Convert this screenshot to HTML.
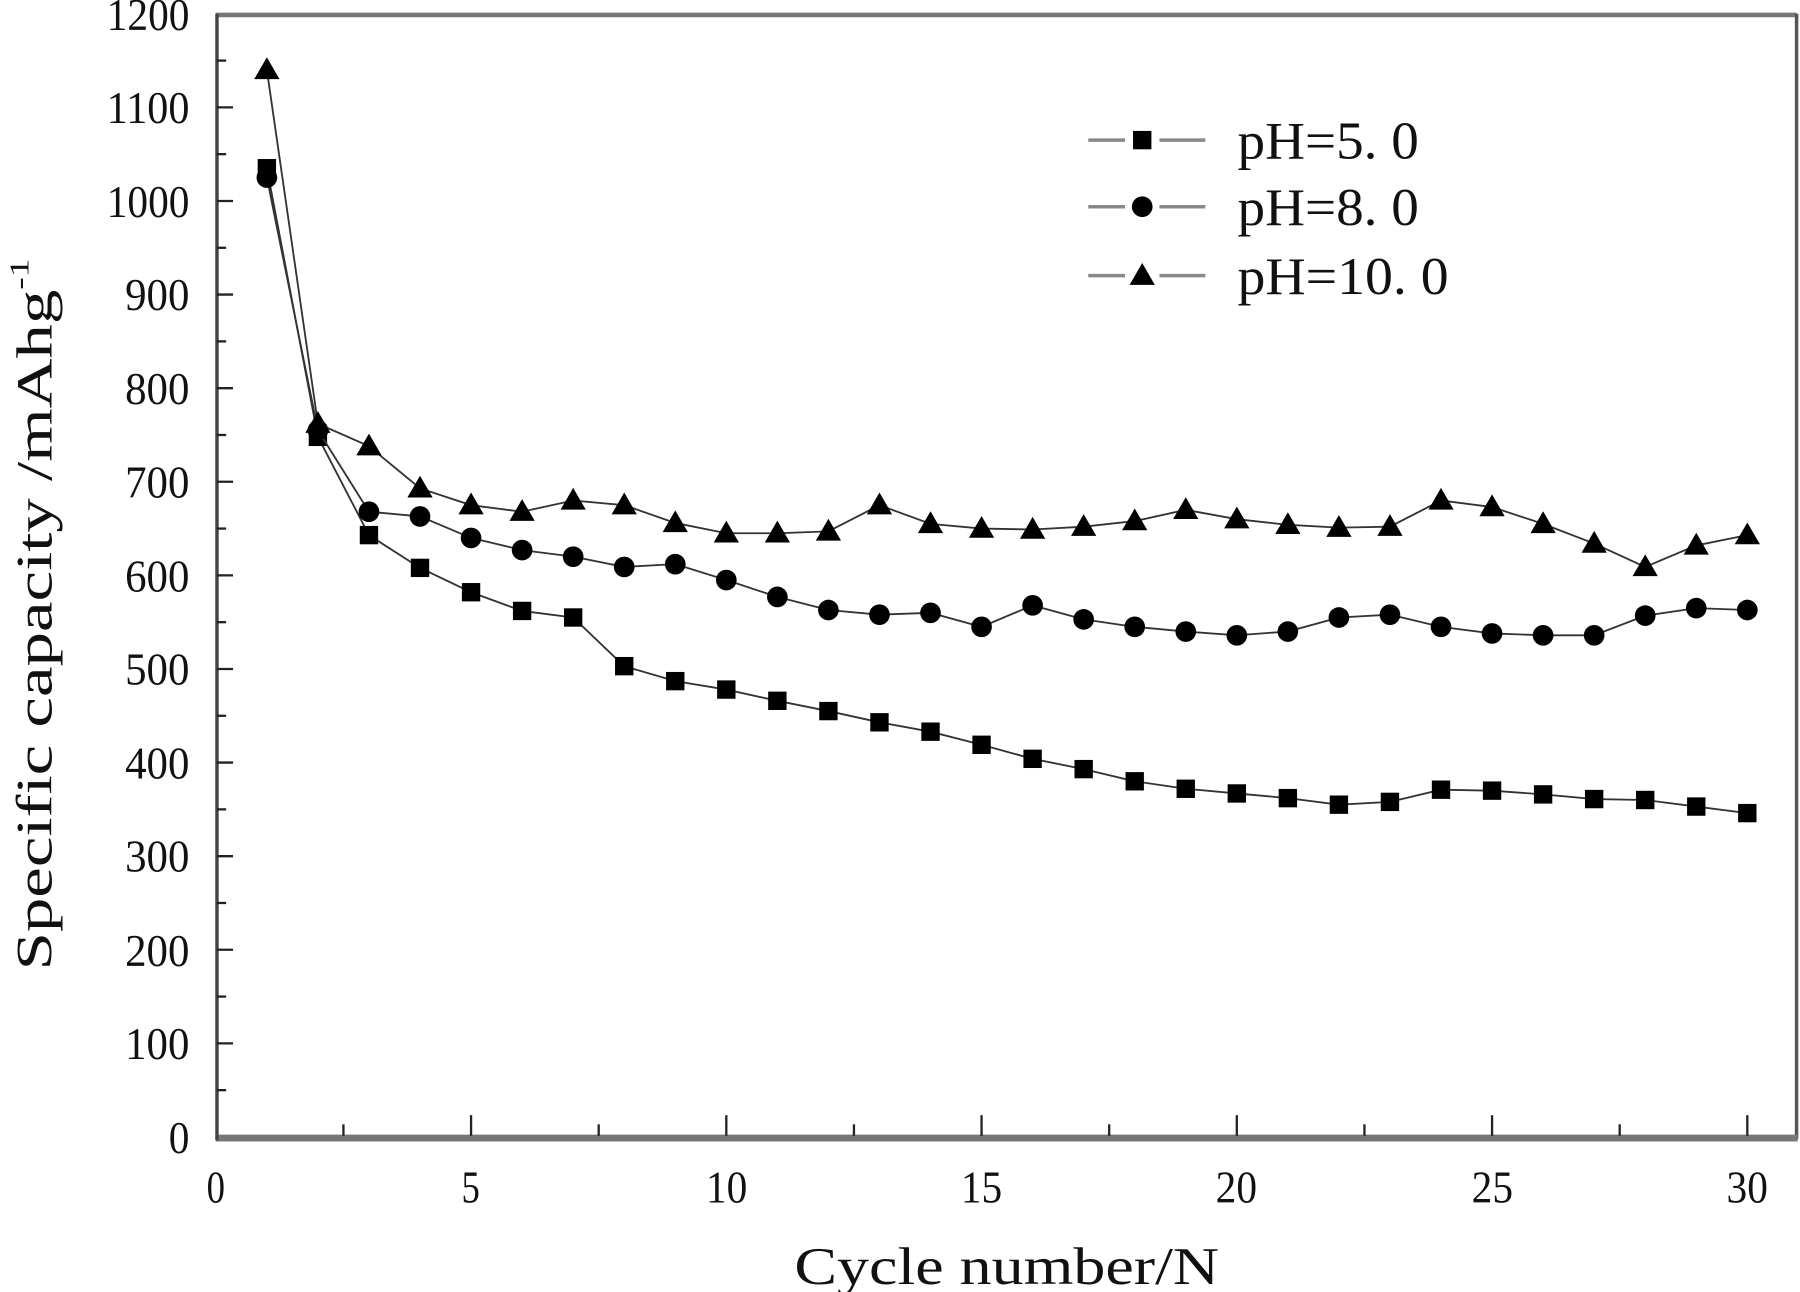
<!DOCTYPE html>
<html><head><meta charset="utf-8"><style>html,body{margin:0;padding:0;background:#fff}svg{display:block}</style></head>
<body>
<svg id="s" width="1800" height="1292" viewBox="0 0 1568 1125" preserveAspectRatio="none" xmlns="http://www.w3.org/2000/svg">
<rect width="1568" height="1125" fill="#fff"/>
<g font-family="Liberation Serif, serif" font-size="40" fill="#111" text-anchor="end">
<text x="165" y="1004" textLength="18" lengthAdjust="spacingAndGlyphs">0</text>
<text x="165" y="922" textLength="56" lengthAdjust="spacingAndGlyphs">100</text>
<text x="165" y="841" textLength="56" lengthAdjust="spacingAndGlyphs">200</text>
<text x="165" y="759" textLength="56" lengthAdjust="spacingAndGlyphs">300</text>
<text x="165" y="678" textLength="56" lengthAdjust="spacingAndGlyphs">400</text>
<text x="165" y="596" textLength="56" lengthAdjust="spacingAndGlyphs">500</text>
<text x="165" y="515" textLength="56" lengthAdjust="spacingAndGlyphs">600</text>
<text x="165" y="433" textLength="56" lengthAdjust="spacingAndGlyphs">700</text>
<text x="165" y="352" textLength="56" lengthAdjust="spacingAndGlyphs">800</text>
<text x="165" y="270" textLength="56" lengthAdjust="spacingAndGlyphs">900</text>
<text x="165" y="189" textLength="72" lengthAdjust="spacingAndGlyphs">1000</text>
<text x="165" y="107" textLength="72" lengthAdjust="spacingAndGlyphs">1100</text>
<text x="165" y="26" textLength="72" lengthAdjust="spacingAndGlyphs">1200</text>
</g>
<g font-family="Liberation Serif, serif" font-size="40" fill="#111" text-anchor="middle">
<text x="188" y="1047" textLength="16" lengthAdjust="spacingAndGlyphs">0</text>
<text x="410" y="1047" textLength="16" lengthAdjust="spacingAndGlyphs">5</text>
<text x="633" y="1047" textLength="36" lengthAdjust="spacingAndGlyphs">10</text>
<text x="855" y="1047" textLength="36" lengthAdjust="spacingAndGlyphs">15</text>
<text x="1077" y="1047" textLength="36" lengthAdjust="spacingAndGlyphs">20</text>
<text x="1300" y="1047" textLength="36" lengthAdjust="spacingAndGlyphs">25</text>
<text x="1522" y="1047" textLength="36" lengthAdjust="spacingAndGlyphs">30</text>
<text x="877" y="1118" font-size="46" textLength="370" lengthAdjust="spacingAndGlyphs">Cycle number/N</text>
<text transform="translate(45,535) rotate(-90)" font-size="44" textLength="620" lengthAdjust="spacingAndGlyphs">Specific capacity /mAhg<tspan font-size="24" dy="-20">-1</tspan></text>
</g>
<g font-family="Liberation Serif, serif" font-size="46" fill="#111">
<text x="1078" y="138" textLength="158" lengthAdjust="spacingAndGlyphs">pH=5. 0</text>
<text x="1078" y="196" textLength="158" lengthAdjust="spacingAndGlyphs">pH=8. 0</text>
<text x="1078" y="256" textLength="184" lengthAdjust="spacingAndGlyphs">pH=10. 0</text>
</g>
<g id="ax"></g>
<g id="dat"></g>
</svg>
<script>
var NS="http://www.w3.org/2000/svg";
function el(p,t,a){var e=document.createElementNS(NS,t);for(var k in a)e.setAttribute(k,a[k]);p.appendChild(e);return e;}
var ax=document.getElementById("ax"),dat=document.getElementById("dat");
function X(n){return 188+44.47*n;}function Y(v){return 990-0.815*v;}
el(ax,"line",{x1:188,y1:13,x2:1565,y2:13,stroke:"#777","stroke-width":4});
el(ax,"line",{x1:1565,y1:12,x2:1565,y2:992,stroke:"#555","stroke-width":3});
el(ax,"line",{x1:188,y1:991,x2:1566,y2:991,stroke:"#777","stroke-width":6});
el(ax,"line",{x1:189,y1:12,x2:189,y2:993,stroke:"#444","stroke-width":3});
for(var v=50;v<1200;v+=50){var mj=v%100==0;el(ax,"line",{x1:189,y1:Y(v),x2:189+(mj?14:8),y2:Y(v),stroke:"#222","stroke-width":2});}
for(var n=2.5;n<=30;n+=2.5){var mj=n%5==0;el(ax,"line",{x1:X(n),y1:989,x2:X(n),y2:989-(mj?18:10),stroke:"#222","stroke-width":2});}
var d5=[1035,748,643,608,582,562,555,503,487,478,466,455,443,433,419,404,393,380,372,367,362,355,358,371,370,366,361,360,353,346];
var d8=[1025,755,668,663,640,627,620,609,612,595,577,563,558,560,545,568,553,545,540,536,540,555,558,545,538,536,536,557,565,563];
var d10=[1140,762,738,693,675,668,680,675,656,645,645,647,675,655,650,649,652,658,670,660,654,651,652,680,673,655,634,609,632,643];
function mk(t,x,y){if(t==0)el(dat,"rect",{x:x-8,y:y-8,width:16,height:16,fill:"#000"});
else if(t==1)el(dat,"circle",{cx:x,cy:y,r:9,fill:"#000"});
else el(dat,"polygon",{points:(x)+","+(y-11)+" "+(x-11)+","+(y+8)+" "+(x+11)+","+(y+8),fill:"#000"});}
[d5,d8,d10].forEach(function(d,t){var p="";d.forEach(function(v,i){p+=(i?"L":"M")+X(i+1)+","+Y(v);});
el(dat,"path",{d:p,fill:"none",stroke:"#333","stroke-width":1.6});d.forEach(function(v,i){mk(t,X(i+1),Y(v));});});
[[122,0],[180,1],[240,2]].forEach(function(r){el(dat,"line",{x1:948,y1:r[0],x2:1050,y2:r[0],stroke:"#888","stroke-width":3});
el(dat,"rect",{x:980,y:r[0]-4,width:30,height:8,fill:"#fff"});mk(r[1],995,r[0]);});
</script>
</body></html>
